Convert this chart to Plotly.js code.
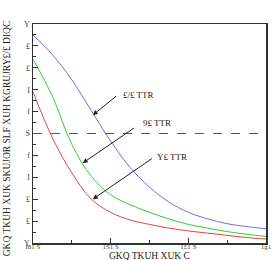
<!DOCTYPE html>
<html><head><meta charset="utf-8">
<script src="https://cdn.plot.ly/plotly-3.0.1.min.js"></script>
<style>html,body{margin:0;padding:0;background:#fff}#c{width:272px;height:260px}</style>
</head><body><div id="c"></div>
<script>
const xVals = [0, 0.25, 0.5, 0.75, 1.0, 1.25, 1.5, 1.75, 2.0, 2.25, 2.5, 2.75, 3.0];
const blueY  = [9.5, 8.6, 7.45, 6.05, 4.65, 3.45, 2.55, 1.87, 1.4, 1.1, 0.88, 0.75, 0.65];
const greenY = [8.4, 6.7, 4.5, 3.05, 2.2, 1.75, 1.4, 1.1, 0.85, 0.68, 0.52, 0.4, 0.3];
const redY   = [6.9, 4.8, 3.2, 2.0, 1.4, 1.05, 0.85, 0.68, 0.55, 0.45, 0.35, 0.25, 0.18];
const refLevel = 5;
const xTickVals = [0, 1, 2, 3];
const xTickText = ['f81 S', '1S1 S', '1£1 S', '1g1'];
const yTickVals = [0,1,2,3,4,5,6,7,8,9,10];
const yTickText = ['Y','£','£','I','f','S','f','I','£','£','Y'];
const seriesLabels = ['£/£ TTR', '9£ TTR', 'Y£ TTR'];
const xTitle = 'GKQ TKUH XUK C';
const yTitle = 'GKQ TKUH XUK SKUJOR SLF XUH KGRUJRY£/£ DIQC';

const font = 'Liberation Serif, DejaVu Serif, serif';
const traces = [
  {x: xVals, y: blueY, mode: 'lines', line: {color: '#6f6fe6', width: 1, shape: 'spline', smoothing: 1}},
  {x: xVals, y: greenY, mode: 'lines', line: {color: '#33cc33', width: 1, shape: 'spline', smoothing: 1}},
  {x: xVals, y: redY, mode: 'lines', line: {color: '#d84848', width: 1, shape: 'spline', smoothing: 1}}
];
const arrowCommon = {xref: 'x', yref: 'y', axref: 'x', ayref: 'y', showarrow: true,
  arrowcolor: '#222', arrowwidth: 1, arrowsize: 1, text: ''};
const layout = {
  width: 272, height: 260,
  margin: {l: 33, r: 6, t: 24, b: 17},
  paper_bgcolor: '#fff', plot_bgcolor: '#fff',
  showlegend: false,
  font: {family: font, color: '#333', size: 8},
  xaxis: {range: [0, 3], tickvals: xTickVals, ticktext: xTickText, ticks: 'inside', ticklen: 5,
    tickcolor: '#333', minor: {dtick: 0.5, ticks: 'inside', ticklen: 3, tickcolor: '#333'},
    showline: true, mirror: true, linecolor: '#333', linewidth: 1.5, showgrid: false, zeroline: false,
    tickfont: {size: 7, family: font, color: '#444'}, ticklabelstandoff: -4, ticklabeloverflow: 'allow',
    automargin: false},
  yaxis: {range: [0, 10], tickvals: yTickVals, ticktext: yTickText, ticks: 'inside', ticklen: 5,
    tickcolor: '#333', minor: {dtick: 0.5, ticks: 'inside', ticklen: 3, tickcolor: '#333'},
    showline: true, mirror: true, linecolor: '#333', linewidth: 1.5, showgrid: false, zeroline: false,
    tickfont: {size: 8, family: font, color: '#444'}, ticklabeloverflow: 'allow', automargin: false},
  shapes: [{type: 'line', xref: 'paper', x0: 0, x1: 1, yref: 'y', y0: refLevel, y1: refLevel,
    line: {color: '#555', width: 1, dash: 'dash'}}],
  annotations: [
    Object.assign({}, arrowCommon, {x: 0.77, y: 5.84, ax: 1.09, ay: 6.76, arrowhead: 2}),
    Object.assign({}, arrowCommon, {x: 0.64, y: 3.65, ax: 1.32, ay: 5.3, arrowhead: 2}),
    Object.assign({}, arrowCommon, {x: 0.77, y: 2.0, ax: 1.55, ay: 3.9, arrowhead: 2}),
    {xref: 'x', yref: 'y', x: 1.13, y: 6.76, xanchor: 'left', yanchor: 'middle', text: seriesLabels[0], showarrow: false, font: {size: 9, family: font, color: '#222'}},
    {xref: 'x', yref: 'y', x: 1.39, y: 5.5, xanchor: 'left', yanchor: 'middle', text: seriesLabels[1], showarrow: false, font: {size: 9, family: font, color: '#222'}},
    {xref: 'x', yref: 'y', x: 1.57, y: 3.95, xanchor: 'left', yanchor: 'middle', text: seriesLabels[2], showarrow: false, font: {size: 9, family: font, color: '#222'}},
    {xref: 'paper', yref: 'paper', x: 0.5, y: -0.059, xanchor: 'center', yanchor: 'middle', text: xTitle, showarrow: false, font: {size: 9.5, family: font, color: '#222'}},
    {xref: 'paper', yref: 'paper', x: -0.11, y: 0.48, xanchor: 'center', yanchor: 'middle', textangle: -90, text: yTitle, showarrow: false, font: {size: 9.5, family: font, color: '#222'}}
  ]
};
Plotly.newPlot('c', traces, layout, {staticPlot: true, displayModeBar: false});
</script></body></html>
